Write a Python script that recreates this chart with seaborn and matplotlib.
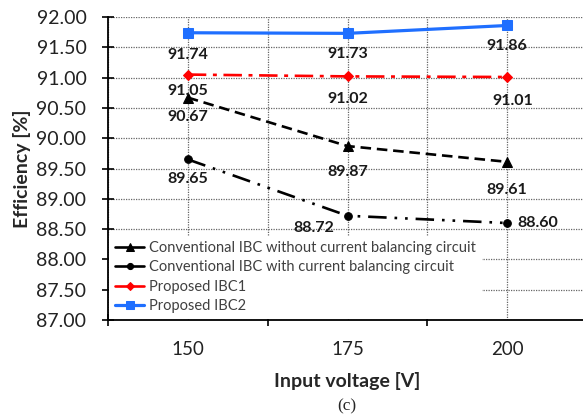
import matplotlib
matplotlib.use("Agg")
import matplotlib.pyplot as plt
import seaborn as sns
import pandas as pd
import numpy as np

voltages = [150, 175, 200]
conv_without = [90.67, 89.87, 89.61]
conv_with = [89.65, 88.72, 88.60]
proposed1 = [91.05, 91.02, 91.01]
proposed2 = [91.74, 91.73, 91.86]
y_ticks = [87.0, 87.5, 88.0, 88.5, 89.0, 89.5, 90.0, 90.5, 91.0, 91.5, 92.0]

labels = ["Conventional IBC without current balancing circuit",
          "Conventional IBC with current balancing circuit",
          "Proposed IBC1",
          "Proposed IBC2"]

sns.set_style("white")
plt.rcParams['font.family'] = ['Lato', 'DejaVu Sans']

fig = plt.figure(figsize=(5.83, 4.2), dpi=100)
ax = fig.add_axes([108/583, 100/420, 479/583, 303/420])

series = [
    (conv_without, labels[0], 'black', '^', (4, 2.2), 7, 1.9),
    (conv_with, labels[1], 'black', 'o', (7, 3, 1, 3, 1, 3), 5.5, 1.9),
    (proposed1, labels[2], '#ff0000', 'D', (7, 2.5, 1.5, 2.5), 5.5, 1.9),
    (proposed2, labels[3], '#1f6fff', 's', None, 7, 2.3),
]
for vals, lab, col, mk, dash, ms, lw in series:
    df = pd.DataFrame({"x": voltages, "y": vals})
    sns.lineplot(data=df, x="x", y="y", ax=ax, color=col, marker=mk,
                 markersize=ms, markeredgecolor=col, linewidth=lw, label=lab)
    l = ax.lines[-1]
    if dash is not None:
        l.set_dashes(dash)

# data labels
offsets = {
    (0, 0): (0, -14), (0, 1): (0, -19), (0, 2): (0, -20),
    (1, 0): (0, -14), (1, 1): (-24, -9), (1, 2): (22, 0),
    (2, 0): (0, -12), (2, 1): (0, -16), (2, 2): (4, -17),
    (3, 0): (0, -16), (3, 1): (0, -15), (3, 2): (0, -15),
}
for si, (vals, *_r) in enumerate(series):
    for pi, (xv, yv) in enumerate(zip(voltages, vals)):
        dx, dy = offsets[(si, pi)]
        ax.annotate(f"{yv:.2f}", (xv, yv), xytext=(dx, dy), textcoords="offset points",
                    ha="center", va="center", fontsize=11.5, fontweight="bold", color="#1a1a1a")

ax.set_xlim(137.5, 212.5)
ax.set_ylim(87, 92)
ax.set_xticks([137.5, 162.5, 187.5, 212.5])
ax.set_xticklabels([])
ax.set_xticks(voltages, minor=True)
ax.set_xticklabels([str(v) for v in voltages], minor=True)
ax.set_yticks(y_ticks)
ax.set_yticklabels([f"{v:.2f}" for v in y_ticks])
ax.tick_params(axis='x', which='major', direction='inout', length=9, width=1.2, color='black', bottom=True)
ax.tick_params(axis='x', which='minor', length=0, pad=15, labelsize=13.5, labelcolor='#222222')
ax.tick_params(axis='y', which='major', direction='inout', length=9, width=1.2, color='black',
               left=True, labelsize=14, labelcolor='#222222', pad=11)

ax.grid(True, which='both', axis='x', color='#666666', linestyle=(0, (1, 1)), linewidth=0.9)
ax.grid(True, which='major', axis='y', color='#666666', linestyle=(0, (1, 1)), linewidth=0.9)
ax.set_axisbelow(True)
for s in ['top', 'right']:
    ax.spines[s].set_visible(False)
for s in ['left', 'bottom']:
    ax.spines[s].set_color('black')
    ax.spines[s].set_linewidth(1.3)

ax.set_xlabel("Input voltage [V]", fontsize=14, fontweight='bold', labelpad=10)
ax.set_ylabel("Efficiency [%]", fontsize=14, fontweight='bold', labelpad=4)

leg = ax.legend(loc='lower left', bbox_to_anchor=(0.0, 0.0), frameon=True, fancybox=False,
                framealpha=1, facecolor='white', edgecolor='none', fontsize=10.5,
                handlelength=2.0, handletextpad=0.3, labelspacing=0.35, borderpad=0.4,
                borderaxespad=0.1, markerscale=0.8)
for t in leg.get_texts():
    t.set_color('#404040')
for h in leg.get_lines():
    h.set_linestyle('-')

fig.text(347/583, 1 - 406/420, "(c)", ha='center', va='center', fontsize=12.5,
         family=['Liberation Serif', 'DejaVu Serif'])

fig.savefig("out.png", dpi=100)
